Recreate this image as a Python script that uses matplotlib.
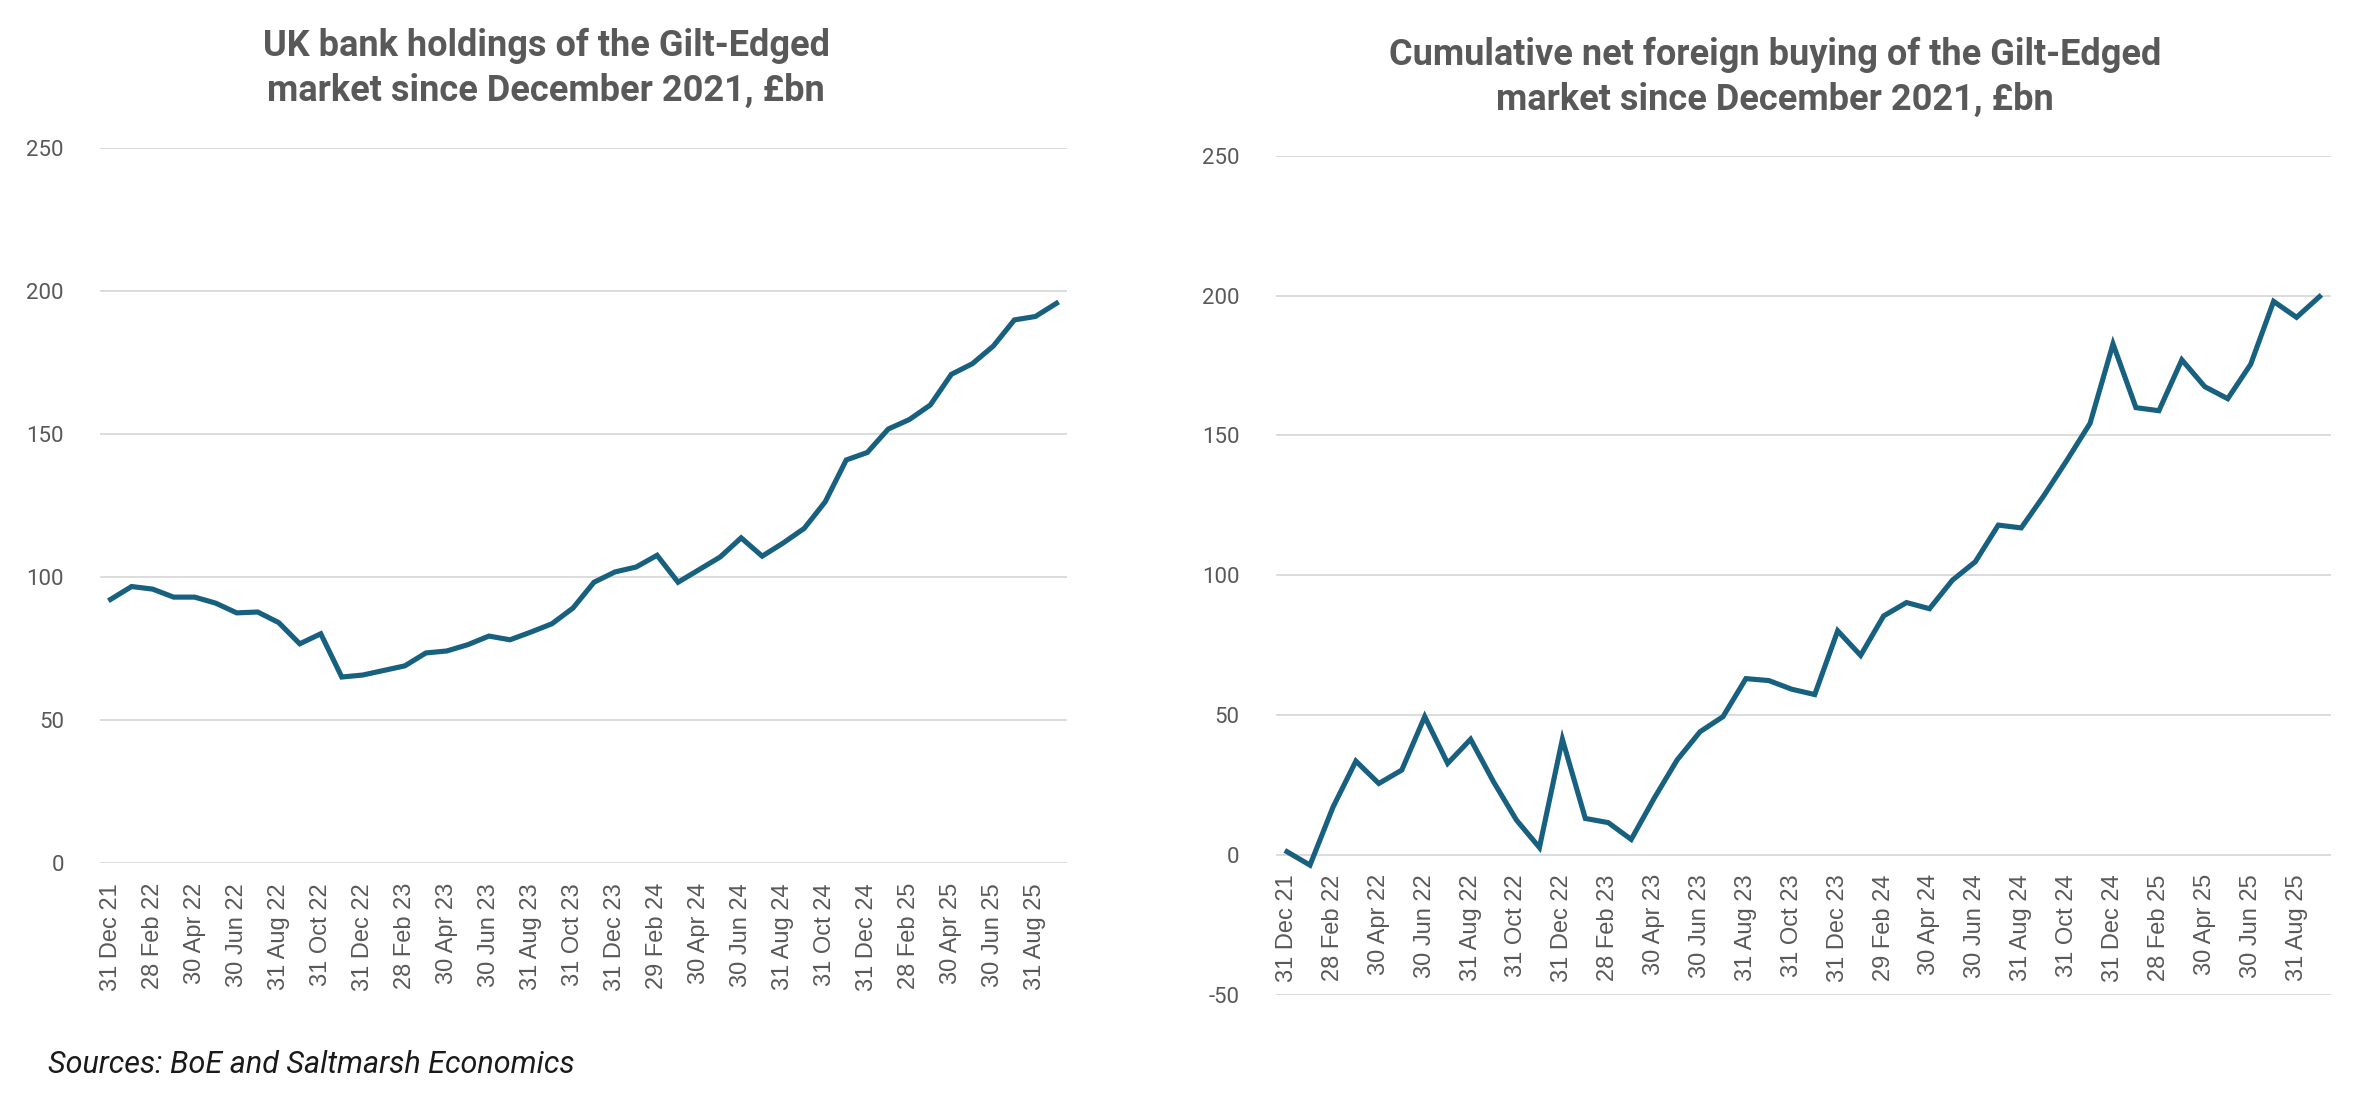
import matplotlib.pyplot as plt
import pandas as pd

# month-end dates, Dec 2021 to Sep 2025
months = pd.date_range('2021-12-31', periods=46, freq='ME')
tick_labels = ['31 Dec 21', '28 Feb 22', '30 Apr 22', '30 Jun 22', '31 Aug 22', '31 Oct 22',
               '31 Dec 22', '28 Feb 23', '30 Apr 23', '30 Jun 23', '31 Aug 23', '31 Oct 23',
               '31 Dec 23', '29 Feb 24', '30 Apr 24', '30 Jun 24', '31 Aug 24', '31 Oct 24',
               '31 Dec 24', '28 Feb 25', '30 Apr 25', '30 Jun 25', '31 Aug 25']

# UK bank holdings, £bn
uk_banks = [92.2, 96.7, 95.8, 93.0, 93.0, 90.9, 87.5, 87.8, 84.1, 76.7, 80.2, 65.1,
            65.8, 67.4, 69.0, 73.5, 74.2, 76.4, 79.4, 78.1, 80.8, 83.7, 89.2, 98.2,
            101.8, 103.5, 107.6, 98.2, 102.6, 107.0, 113.7, 107.3, 111.9, 117.0, 126.3, 140.9,
            143.5, 151.7, 155.0, 160.1, 170.8, 174.5, 180.7, 189.8, 191.0, 195.6]

# cumulative net foreign buying, £bn
foreign = [1.1, -3.7, 17.0, 33.5, 25.5, 30.3, 49.4, 32.7, 41.3, 26.1, 12.4, 2.6,
           41.3, 13.0, 11.5, 5.5, 20.2, 33.9, 44.0, 49.4, 63.0, 62.3, 59.2, 57.3,
           80.1, 71.3, 85.4, 90.2, 88.0, 98.2, 104.8, 117.9, 116.9, 128.6, 141.2, 154.3,
           182.7, 159.9, 158.8, 177.0, 167.4, 163.1, 175.4, 197.9, 192.2, 199.6]

line_col = '#17607f'
grid_col = '#d9d9d9'
text_col = '#595959'

fig = plt.figure(figsize=(23.6, 11.05), dpi=100)
ax1 = fig.add_axes([0.0424, 0.2186, 0.4097, 0.6479])
ax2 = fig.add_axes([0.5405, 0.0999, 0.4472, 0.7592])
# right chart: category labels hang from the zero line
ax2.spines['bottom'].set_position(('data', 0))


def style(ax, ylim, yticks):
    x = list(range(len(months)))
    ax.set_xlim(-0.5, len(months) - 0.5)
    ax.set_ylim(*ylim)
    ax.set_yticks(yticks)
    ax.set_yticklabels([str(t) for t in yticks], fontsize=16, color=text_col, family='Roboto')
    ax.set_xticks(x[::2])
    ax.set_xticklabels(tick_labels, rotation=90, fontsize=17, color=text_col,
                       family='Liberation Sans')
    ax.tick_params(axis='both', length=0)
    ax.tick_params(axis='y', pad=26)
    ax.tick_params(axis='x', pad=14)
    ax.grid(axis='y', color=grid_col, linewidth=1.3)
    ax.set_axisbelow(True)
    for s in ax.spines.values():
        s.set_visible(False)
    return x


x = style(ax1, (0, 250), [0, 50, 100, 150, 200, 250])
ax1.plot(x, uk_banks, color=line_col, linewidth=3.7, solid_joinstyle='miter')

x = style(ax2, (-50, 250), [-50, 0, 50, 100, 150, 200, 250])
ax2.plot(x, foreign, color=line_col, linewidth=3.7, solid_joinstyle='miter')

fig.text(0.2314, 0.938, 'UK bank holdings of the Gilt-Edged\nmarket since December 2021, £bn',
         ha='center', va='center', fontsize=26, fontweight='bold', color=text_col,
         family='Roboto', linespacing=1.3)
fig.text(0.752, 0.930, 'Cumulative net foreign buying of the Gilt-Edged\nmarket since December 2021, £bn',
         ha='center', va='center', fontsize=26, fontweight='bold', color=text_col,
         family='Roboto', linespacing=1.3)
fig.text(0.0203, 0.037, 'Sources: BoE and Saltmarsh Economics', ha='left', va='center',
         fontsize=22, style='italic', color='#1a1a1a', family='Roboto')

fig.savefig('out.png', dpi=100)
